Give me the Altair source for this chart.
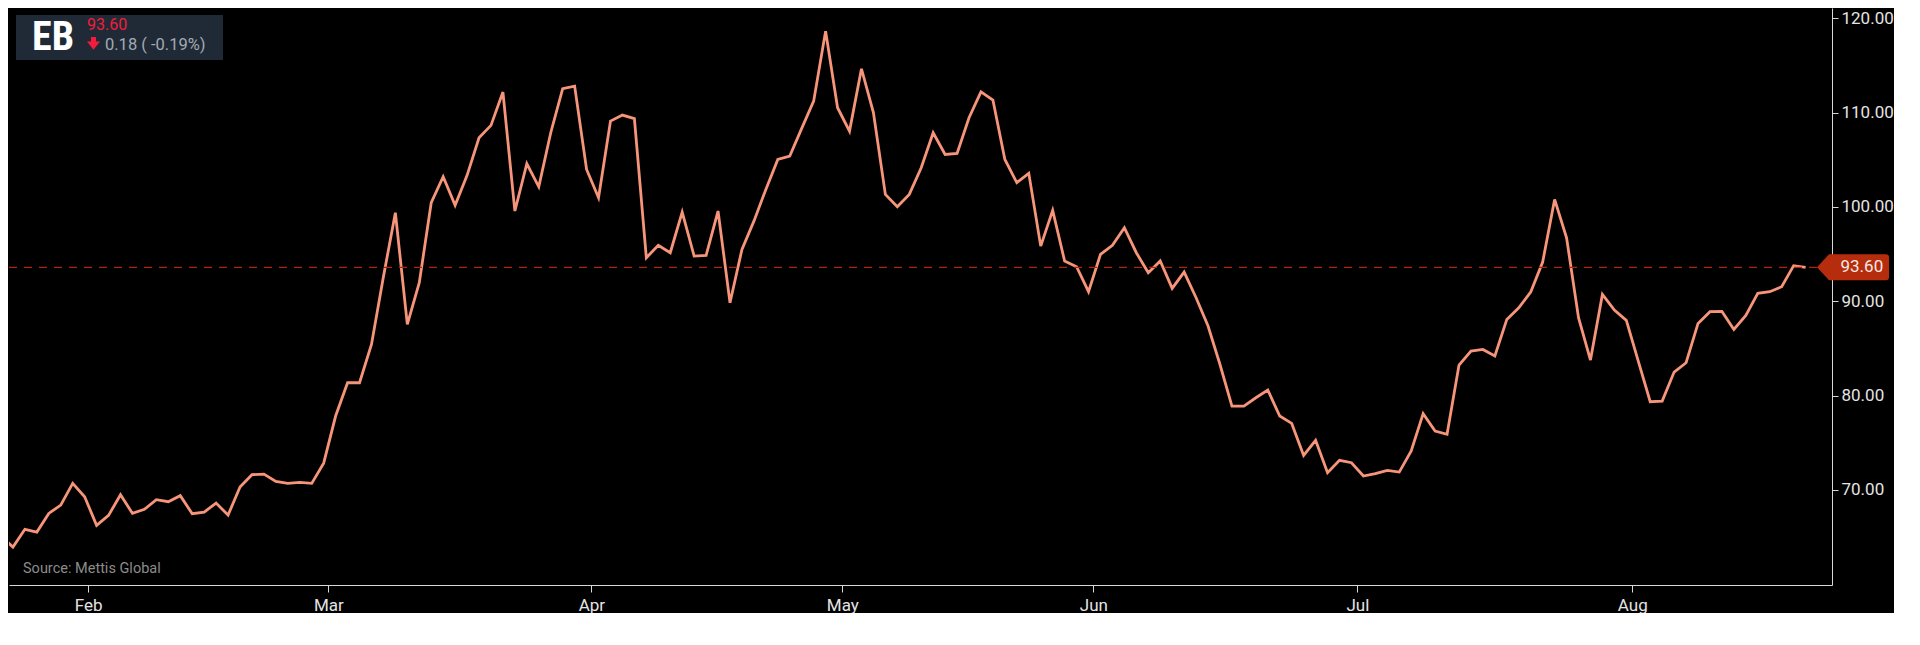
import altair as alt
import pandas as pd

# ---- data ----
values = [
    65.10, 63.95, 65.83, 65.54, 67.52, 68.40, 70.70, 69.29, 66.25, 67.31,
    69.50, 67.52, 67.95, 68.97, 68.76, 69.40, 67.49, 67.66, 68.61, 67.34,
    70.31, 71.62, 71.69, 70.91, 70.70, 70.80, 70.70, 72.85, 77.84, 81.37,
    81.37, 85.43, 92.60, 99.39, 87.55, 91.97, 100.45, 103.20, 100.17, 103.35,
    107.34, 108.65, 112.18, 99.57, 104.58, 102.14, 107.87, 112.53, 112.81, 103.98,
    100.98, 109.10, 109.74, 109.36, 94.62, 95.93, 95.15, 99.46, 94.80, 94.87,
    99.57, 89.85, 95.50, 98.50, 101.86, 105.04, 105.40, 108.33, 111.22, 118.64,
    110.52, 108.04, 114.65, 110.00, 101.33, 100.03, 101.33, 104.16, 107.87, 105.57,
    105.68, 109.46, 112.20, 111.33, 105.04, 102.57, 103.56, 95.85, 99.64, 94.27,
    93.67, 91.02, 94.97, 95.93, 97.80, 95.15, 93.03, 94.27, 91.37, 93.10,
    90.38, 87.38, 83.30, 78.90, 78.90, 79.78, 80.60, 77.84, 77.06, 73.67,
    75.26, 71.83, 73.14, 72.89, 71.48, 71.73, 72.08, 71.90, 74.13, 78.09,
    76.25, 75.90, 83.24, 84.73, 84.90, 84.20, 88.08, 89.32, 90.98, 94.16,
    100.80, 96.74, 88.26, 83.77, 90.73, 89.07, 87.98, 83.67, 79.36, 79.43,
    82.50, 83.49, 87.66, 88.90, 88.93, 87.02, 88.51, 90.84, 91.02, 91.55,
    93.78, 93.60,
]
index = list(range(len(values)))
month_labels = ["Feb", "Mar", "Apr", "May", "Jun", "Jul", "Aug"]
month_pos = [7.3, 27.4, 49.4, 70.4, 91.4, 113.5, 136.5]
y_ticks = [70, 80, 90, 100, 110, 120]
last_price = [93.60]
ticker = ["EB"]
price_text = ["93.60"]
change_text = ["0.18 ( -0.19%)"]
source_text = ["Source: Mettis Global"]

# ---- styling ----
W, H = 1823, 577
LINE = "#f7957a"
RED = "#b52d0d"
AX = "#d8d8d8"
LBL = "#e4e4e4"
FONT = "Roboto"

xs = alt.Scale(domain=[0.67, 153.21], nice=False, zero=False)
ys = alt.Scale(domain=[59.93, 121.09], nice=False, zero=False)

label_expr = "[%s][indexof([%s], datum.value)]" % (
    ",".join("'%s'" % m for m in month_labels),
    ",".join(str(p) for p in month_pos),
)

xaxis = alt.Axis(values=month_pos, labelExpr=label_expr, grid=False, title=None,
                 domainColor=AX, tickColor=AX, tickSize=7, labelColor=LBL,
                 labelFontSize=17, labelFont=FONT, labelPadding=5,
                 labelFlush=False, labelOverlap=False)
yaxis = alt.Axis(orient="right", values=y_ticks, format=".2f", grid=False, title=None,
                 domainColor=AX, tickColor=AX, tickSize=6, labelColor=LBL,
                 labelFontSize=17, labelFont=FONT, labelPadding=3)

df = pd.DataFrame({"i": index, "v": values})
ref = pd.DataFrame({"v": last_price, "t": price_text})

line = alt.Chart(df).mark_line(color=LINE, strokeWidth=2.8, clip=True).encode(
    x=alt.X("i:Q", scale=xs, axis=xaxis),
    y=alt.Y("v:Q", scale=ys, axis=yaxis),
)

rule = alt.Chart(ref).mark_rule(color="#a8290c", strokeDash=[8, 7], strokeWidth=1.4).encode(
    y=alt.Y("v:Q", scale=ys, axis=yaxis),
    x=alt.value(0),
    x2=alt.value(W - 15),
)

tag_path = "M-15,0 L-3,-13 L54,-13 Q57,-13 57,-10 L57,10 Q57,13 54,13 L-3,13 Z"
tag = alt.Chart(ref).mark_point(shape=tag_path, size=4, filled=True, fill=RED,
                                opacity=1, strokeWidth=0).encode(
    y=alt.Y("v:Q", scale=ys, axis=yaxis),
    x=alt.value(W),
)
tag_txt = alt.Chart(ref).mark_text(align="left", baseline="middle", fontSize=17,
                                   font=FONT, color="#f6e9e4").encode(
    y=alt.Y("v:Q", scale=ys, axis=yaxis),
    x=alt.value(W + 8.5),
    text="t:N",
)

hdr = pd.DataFrame({"tk": ticker, "p": price_text, "c": change_text})
box = alt.Chart(hdr).mark_rect(color="#1f2a36").encode(
    x=alt.value(7), x2=alt.value(214), y=alt.value(7), y2=alt.value(52)
)
tk_txt = alt.Chart(hdr).mark_text(align="left", baseline="alphabetic", fontSize=40,
                                  fontWeight="bold", color="#ffffff",
                                  font="Liberation Sans Narrow, Roboto Condensed, Roboto").encode(
    x=alt.value(23), y=alt.value(42), text="tk:N"
)
p_txt = alt.Chart(hdr).mark_text(align="left", baseline="alphabetic", fontSize=16,
                                 font=FONT, color="#f41c3c").encode(
    x=alt.value(78), y=alt.value(21.5), text="p:N"
)
arrow_path = "M-2.5,-6.4 L2.5,-6.4 L2.5,-2 L6.5,-2 L0,6.3 L-6.5,-2 L-2.5,-2 Z"
arrow = alt.Chart(hdr).mark_point(shape=arrow_path, size=4, filled=True, fill="#f41c3c",
                                  opacity=1, strokeWidth=0).encode(
    x=alt.value(84.5), y=alt.value(35.5)
)
c_txt = alt.Chart(hdr).mark_text(align="left", baseline="alphabetic", fontSize=16.5,
                                 font=FONT, color="#a3abb3").encode(
    x=alt.value(96), y=alt.value(42), text="c:N"
)

src = alt.Chart(pd.DataFrame({"s": source_text})).mark_text(
    align="left", baseline="alphabetic", fontSize=14.5, font=FONT, color="#8c8c8c"
).encode(x=alt.value(14), y=alt.value(565), text="s:N")

chart = alt.layer(line, rule, tag, tag_txt, box, tk_txt, p_txt, arrow, c_txt, src).properties(
    width=W, height=H, padding=0, background="#000000"
).configure_view(stroke=None)

chart.save("out.html", embed_options={"renderer": "svg", "actions": False})
